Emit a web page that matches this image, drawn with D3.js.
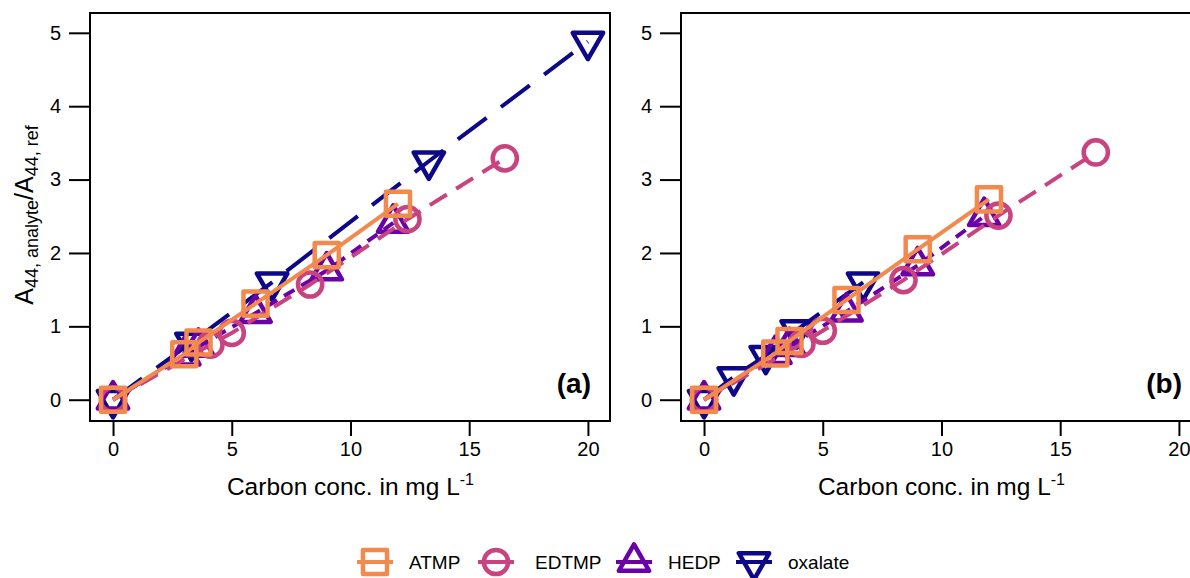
<!DOCTYPE html>
<html>
<head>
<meta charset="utf-8">
<script src="https://cdn.jsdelivr.net/npm/d3@7"></script>
<style>
  body { margin: 0; background: #fff; }
  svg { display: block; font-family: "Liberation Sans", Arial, sans-serif; }
</style>
</head>
<body>
<svg id="chart" width="1190" height="578"></svg>
<script>
// values
const xTicks = [0, 5, 10, 15, 20];
const yTicks = [0, 1, 2, 3, 4, 5];
const seriesNames = ['ATMP', 'EDTMP', 'HEDP', 'oxalate'];
const panelLabels = ['(a)', '(b)'];

const atmpA = [[0, 0], [3, 0.62], [3.6, 0.78], [6, 1.31], [9, 1.97], [12, 2.67]];
const edtmpA = [[0, 0], [4.1, 0.75], [5, 0.91], [8.3, 1.57], [12.4, 2.46], [16.5, 3.29]];
const hedpA = [[0, 0], [3, 0.6], [3.6, 0.72], [6, 1.18], [9, 1.76], [11.8, 2.41]];
const oxalateA = [[0, 0], [3.3, 0.78], [6.7, 1.6], [13.3, 3.25], [20, 4.88]];

const atmpB = [[0, 0], [3, 0.63], [3.6, 0.8], [6, 1.36], [9, 2.05], [12, 2.73]];
const edtmpB = [[0, 0], [4.1, 0.76], [5, 0.94], [8.4, 1.63], [12.4, 2.51], [16.5, 3.37]];
const hedpB = [[0, 0], [3, 0.62], [3.6, 0.73], [6, 1.2], [9, 1.83], [11.8, 2.5]];
const oxalateB = [[0, 0], [1.25, 0.31], [2.6, 0.6], [3.9, 0.95], [6.7, 1.6]];

const colors = { ATMP: '#f2894d', EDTMP: '#c8437f', HEDP: '#6a00a8', oxalate: '#0d0887' };
const dashes = { ATMP: null, EDTMP: '20,11', HEDP: '12,8', oxalate: '36,18' };

const panels = [
  { left: 90, label: panelLabels[0], data: { ATMP: atmpA, EDTMP: edtmpA, HEDP: hedpA, oxalate: oxalateA }, yTitle: true },
  { left: 681, label: panelLabels[1], data: { ATMP: atmpB, EDTMP: edtmpB, HEDP: hedpB, oxalate: oxalateB }, yTitle: false }
];

const svg = d3.select('#chart');
const plotTop = 13, plotBottom = 421, pw = 520;

function symbolFor(name) {
  if (name === 'ATMP') return d3.symbol().type(d3.symbolSquare).size(580)();
  if (name === 'EDTMP') return d3.symbol().type(d3.symbolCircle).size(460)();
  return d3.symbol().type(d3.symbolTriangle).size(400)();
}
function rot(name) { return name === 'oxalate' ? ' rotate(180)' : ''; }

panels.forEach(p => {
  const x = d3.scaleLinear().domain([-0.97, 20.93]).range([p.left, p.left + pw]);
  const y = d3.scaleLinear().domain([-0.29, 5.27]).range([plotBottom, plotTop]);
  const g = svg.append('g');

  const line = d3.line().x(d => x(d[0])).y(d => y(d[1]));

  seriesNames.slice().reverse().forEach(name => {
    const pts = p.data[name];
    g.append('path')
      .datum(pts)
      .attr('d', line)
      .attr('fill', 'none')
      .attr('stroke', colors[name])
      .attr('stroke-width', 4)
      .attr('stroke-dasharray', dashes[name]);
    g.selectAll(null)
      .data(pts)
      .enter()
      .append('path')
      .attr('d', symbolFor(name))
      .attr('transform', d => `translate(${x(d[0])},${y(d[1])})${rot(name)}`)
      .attr('fill', 'none')
      .attr('stroke', colors[name])
      .attr('stroke-width', 4.5)
      .attr('stroke-linejoin', 'round');
  });

  // frame
  g.append('rect')
    .attr('x', p.left).attr('y', plotTop)
    .attr('width', pw).attr('height', plotBottom - plotTop)
    .attr('fill', 'none').attr('stroke', '#000').attr('stroke-width', 2);

  const xAxis = g.append('g')
    .attr('transform', `translate(0,${plotBottom})`)
    .call(d3.axisBottom(x).tickValues(xTicks).tickFormat(d3.format('d')).tickSize(15).tickPadding(6));
  const yAxis = g.append('g')
    .attr('transform', `translate(${p.left},0)`)
    .call(d3.axisLeft(y).tickValues(yTicks).tickFormat(d3.format('d')).tickSize(21).tickPadding(8));
  [xAxis, yAxis].forEach(a => {
    a.select('.domain').remove();
    a.selectAll('line').attr('stroke', '#000').attr('stroke-width', 2);
    a.selectAll('text').attr('font-size', 20).attr('fill', '#000')
      .attr('font-family', '"Liberation Sans", Arial, sans-serif');
  });

  // x title
  const xt = g.append('text')
    .attr('x', x(10)).attr('y', 495)
    .attr('text-anchor', 'middle')
    .attr('font-size', 24.5);
  xt.append('tspan').text('Carbon conc. in mg L');
  xt.append('tspan').attr('font-size', 16).attr('dy', -10).text('-1');

  g.append('text')
    .attr('x', p.left + pw - 19).attr('y', 393)
    .attr('text-anchor', 'end')
    .attr('font-size', 28)
    .attr('font-weight', 'bold')
    .text(p.label);

  if (p.yTitle) {
    const yt = g.append('text')
      .attr('transform', 'translate(33,215) rotate(-90)')
      .attr('text-anchor', 'middle')
      .attr('font-size', 25);
    yt.append('tspan').text('A');
    yt.append('tspan').attr('font-size', 18).attr('dy', 5).text('44, analyte');
    yt.append('tspan').attr('dy', -5).text('/A');
    yt.append('tspan').attr('font-size', 18).attr('dy', 5).text('44, ref');
  }
});

// legend
const legendItems = [
  { name: 'ATMP', cx: 375, tx: 409 },
  { name: 'EDTMP', cx: 496, tx: 535 },
  { name: 'HEDP', cx: 634, tx: 668 },
  { name: 'oxalate', cx: 754, tx: 788 }
];
const leg = svg.append('g');
legendItems.forEach(it => {
  const gi = leg.append('g').attr('transform', `translate(${it.cx},562)`);
  gi.append('line')
    .attr('x1', -18).attr('x2', 18)
    .attr('stroke', colors[it.name]).attr('stroke-width', 4);
  gi.append('path')
    .attr('d', symbolFor(it.name))
    .attr('transform', rot(it.name).trim())
    .attr('fill', 'none')
    .attr('stroke', colors[it.name])
    .attr('stroke-width', 4.5)
    .attr('stroke-linejoin', 'round');
  leg.append('text')
    .attr('x', it.tx).attr('y', 569)
    .attr('font-size', 19)
    .text(it.name);
});
</script>
</body>
</html>
